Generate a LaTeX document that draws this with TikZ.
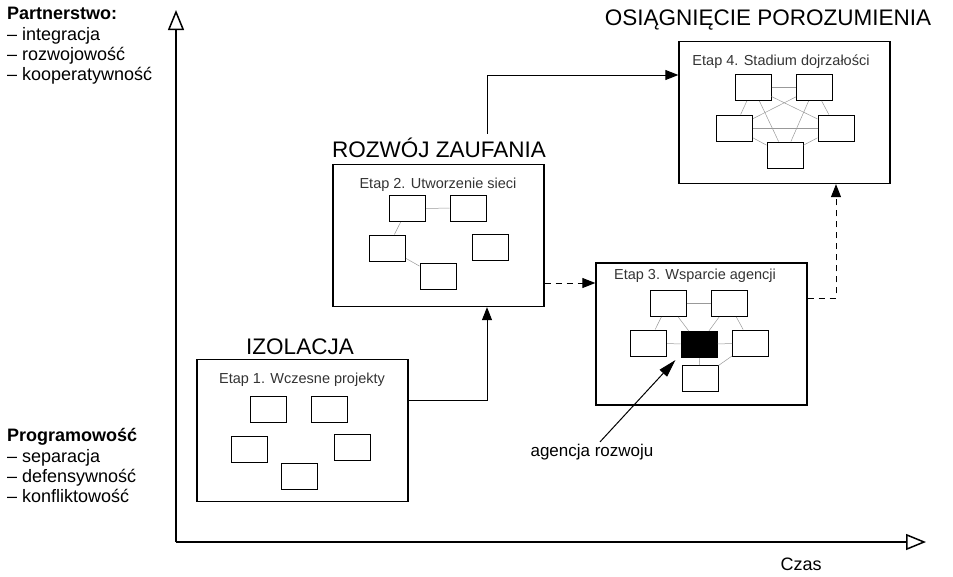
\documentclass[tikz,border=0pt]{standalone}
\usepackage{fontspec}
\setmainfont{Liberation Sans}
\usetikzlibrary{arrows.meta}

\tikzset{
  stage/.style={draw, line width=1.3pt, minimum width=211pt, minimum height=142pt, inner sep=0pt},
  unit/.style={draw, line width=1pt, minimum width=36pt, minimum height=26pt, inner sep=0pt},
  link/.style={gray!80, line width=0.5pt},
  flow/.style={line width=1pt, -{Triangle[length=13pt,width=10pt]}},
  pointer/.style={line width=1pt, -{Triangle[length=18pt,width=10pt]}},
  timeaxis/.style={line width=1.5pt, -{Triangle[open,length=20pt,width=16pt]}},
  phase/.style={font=\fontsize{22.5}{26}\selectfont, inner sep=0pt},
  etap/.style={font=\fontsize{14.5}{17}\selectfont, text=black!80, inner sep=0pt},
  note/.style={font=\fontsize{18}{20}\selectfont, align=left, inner sep=0pt},
}

\begin{document}
\begin{tikzpicture}[x=1pt, y=-1pt]
  \useasboundingbox (0,0) rectangle (953,576);

  % Axes
  \coordinate (origin) at (176,542);
  \coordinate (ytip) at (176,10);
  \coordinate (xtip) at (926,542);
  \draw[timeaxis] (origin) -- (ytip);
  \draw[timeaxis] (origin) -- (xtip);
  \node[note] (czas) at (801,564) {Czas};

  % Axis descriptions
  \node[note, anchor=north west] (partner) at (7,7)
    {\textbf{Partnerstwo:}\\[1pt]– integracja\\– rozwojowość\\– kooperatywność};
  \node[note, anchor=north west] (program) at (7,428)
    {\textbf{Programowość}\\[1pt]– separacja\\– defensywność\\– konfliktowość};

  % Stage frames
  \node[stage] (s1) at (302.5,430.5) {};
  \node[stage] (s2) at (438.5,235.5) {};
  \node[stage] (s3) at (701.5,334) {};
  \node[stage] (s4) at (784.5,112.5) {};

  % Stage titles
  \node[phase] (t1) at (300,347) {IZOLACJA};
  \node[phase] (t2) at (439,148) {ROZWÓJ ZAUFANIA};
  \node[phase] (t4) at (768,20) {OSIĄGNIĘCIE POROZUMIENIA};

  \node[etap] (e1) at (302,380) {Etap 1. Wczesne projekty};
  \node[etap] (e2) at (438,185) {Etap 2. Utworzenie sieci};
  \node[etap] (e3) at (695,276) {Etap 3. Wsparcie agencji};
  \node[etap] (e4) at (781,62) {Etap 4. Stadium dojrzałości};

  % Projects inside the frames
  \foreach \n/\x/\y in {
    p1a/268.5/409.5, p1b/329.5/409.5, p1c/249/449.5, p1d/352/447.5, p1e/299.5/476.5,
    p2a/407.5/208.5, p2b/468/208, p2c/387.5/248, p2d/490.5/247, p2e/438/276.5,
    p3a/668/303.5, p3b/729/303.5, p3c/648.5/343, p3d/750.5/343, p3e/700/378.5,
    p4a/753/87.5, p4b/814.5/87.5, p4c/734.5/128, p4d/836/128, p4e/785/155
  }{
    \node[unit] (\n) at (\x,\y) {};
  }
  \node[unit, fill=black] (p3x) at (699,344.5) {};

  % Links between projects
  \foreach \a/\b in {p2a/p2b, p2a/p2c, p2c/p2e,
    p3a/p3b, p3a/p3c, p3a/p3x, p3b/p3x, p3b/p3d, p3c/p3x, p3x/p3d, p3x/p3e, p3e/p3d}
    \draw[link] (\a) -- (\b);
  \foreach \a/\b in {a/b, a/c, a/d, a/e, b/c, b/d, b/e, c/d, c/e, d/e}
    \draw[link] (p4\a) -- (p4\b);

  % Transitions
  \draw[flow] ([yshift=30pt]s1.east) -| ([xshift=48.5pt]s2.south);
  \draw[flow] ([xshift=48pt,yshift=4pt]t2.north) |- ([yshift=37.5pt]s4.west);
  \draw[flow, dash pattern=on 6pt off 5pt] ([yshift=-47.5pt]s2.east) -- ([yshift=51pt]s3.west);
  \draw[flow, dash pattern=on 6pt off 5pt] ([yshift=36pt]s3.east) -| ([xshift=51.5pt]s4.south);

  % Agency
  \node[note, font=\fontsize{17}{20}\selectfont] (ag) at (592,452) {agencja rozwoju};
  \draw[pointer] ([xshift=8pt,yshift=2pt]ag.north) -- ([xshift=-5pt,yshift=-2pt]p3x.south west);
\end{tikzpicture}
\end{document}
